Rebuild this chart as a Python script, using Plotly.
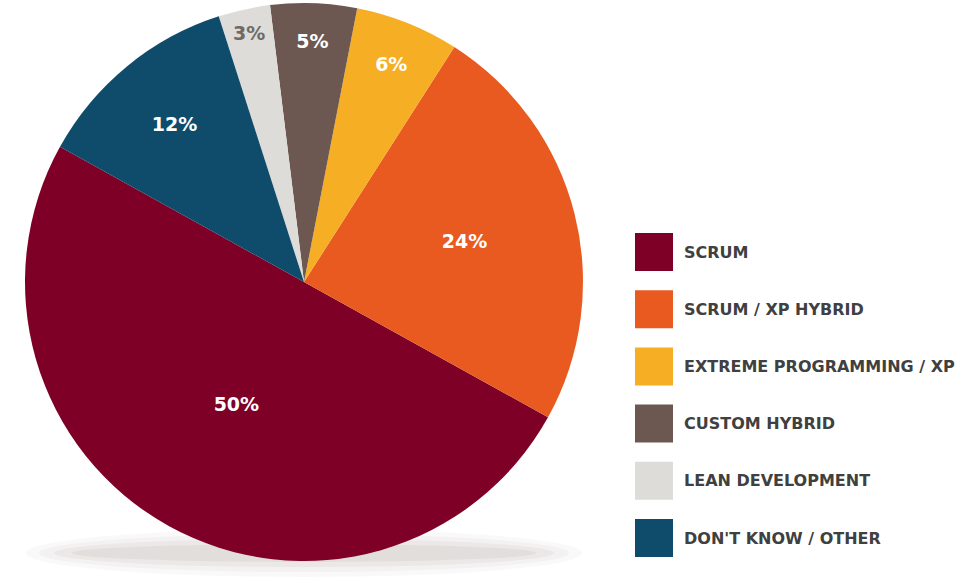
import plotly.graph_objects as go

categories = ["SCRUM", "SCRUM / XP HYBRID", "EXTREME PROGRAMMING / XP",
              "CUSTOM HYBRID", "LEAN DEVELOPMENT", "DON'T KNOW / OTHER"]
values = [50, 24, 6, 5, 3, 12]
colors = ["#7E0027", "#E85A1F", "#F6AE24", "#6C5850", "#DEDCD8", "#0F4C6B"]
text_colors = ["#FFFFFF", "#FFFFFF", "#FFFFFF", "#FFFFFF", "#6E6A66", "#FFFFFF"]

W, H = 963, 579
cx, cy, r = 304, 282, 279  # pixel geometry of pie

fig = go.Figure()
fig.add_trace(go.Pie(
    labels=categories,
    values=values,
    sort=False,
    direction="counterclockwise",
    rotation=119,
    marker=dict(colors=colors, line=dict(width=0)),
    textinfo="percent",
    textposition="inside",
    insidetextorientation="horizontal",
    insidetextfont=dict(family="DejaVu Sans", size=19, color=text_colors, weight=600),
    showlegend=False,
    hoverinfo="label+percent",
    domain=dict(x=[(cx - r) / W, (cx + r) / W], y=[(H - cy - r) / H, (H - cy + r) / H]),
))

shapes = []
# soft shadow beneath the pie
for rx, ry, op in [(278, 24, 0.04), (265, 19, 0.05), (250, 14, 0.06), (232, 9, 0.07)]:
    shapes.append(dict(type="circle", xref="paper", yref="paper", layer="below",
                       x0=(cx - rx) / W, x1=(cx + rx) / W,
                       y0=(H - 553 - ry) / H, y1=(H - 553 + ry) / H,
                       fillcolor=f"rgba(120,105,90,{op})", line=dict(width=0)))

annotations = []
leg_x0, leg_y0, step, box = 635, 233, 57.2, 38
for i, (name, col) in enumerate(zip(categories, colors)):
    top = leg_y0 + i * step
    shapes.append(dict(type="rect", xref="paper", yref="paper",
                       x0=leg_x0 / W, x1=(leg_x0 + box) / W,
                       y0=(H - top - box) / H, y1=(H - top) / H,
                       fillcolor=col, line=dict(width=0)))
    annotations.append(dict(xref="paper", yref="paper", x=682 / W, y=(H - top - box / 2) / H,
                            text=name, showarrow=False, xanchor="left", yanchor="middle",
                            font=dict(family="DejaVu Sans", size=16, color="#404040", weight=700)))

fig.update_layout(
    width=W, height=H,
    margin=dict(l=0, r=0, t=0, b=0),
    paper_bgcolor="white", plot_bgcolor="white",
    shapes=shapes, annotations=annotations,
)

fig.write_html("out.html")
